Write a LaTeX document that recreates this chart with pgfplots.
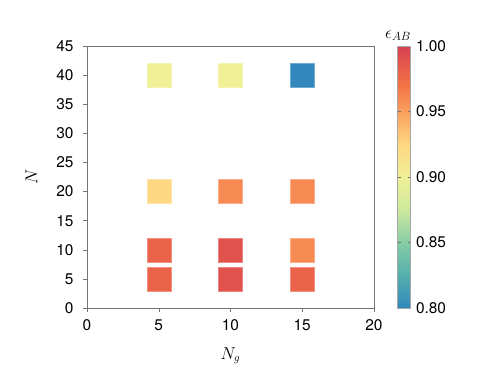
\documentclass[border=0pt]{standalone}
\usepackage{pgfplots}
\pgfplotsset{compat=1.18}
\usepackage{fontspec}
\setmainfont{TeX Gyre Heros}

\pgfplotsset{
  colormap={spectralr}{
    rgb255(0pt)=(50,136,189)
    rgb255(25pt)=(85,175,172)
    rgb255(50pt)=(135,205,165)
    rgb255(75pt)=(205,232,158)
    rgb255(100pt)=(240,240,150)
    rgb255(125pt)=(254,215,130)
    rgb255(150pt)=(251,160,95)
    rgb255(170pt)=(244,115,70)
    rgb255(200pt)=(215,65,80)
  }
}

\begin{document}
\begin{tikzpicture}
\path[use as bounding box] (-87bp,-72bp) rectangle (404bp,308bp);
\begin{axis}[
    at={(0,0)}, anchor=south west,
    scale only axis,
    width=287bp, height=262bp,
    xmin=0, xmax=20, ymin=0, ymax=45,
    xtick={0,5,...,20}, ytick={0,5,...,45},
    tick align=outside,
    tick pos=left,
    major tick length=4bp,
    axis line style={black!55},
    every tick/.style={black!55},
    ticklabel style={font=\fontsize{15.5}{17}\selectfont},
    xticklabel style={yshift=-4bp},
    yticklabel style={xshift=-6bp},
    /pgf/number format/assume math mode=true,
    xlabel={$N_g$}, ylabel={$N$},
    label style={font=\fontsize{16}{18}\selectfont},
    xlabel style={yshift=-10bp},
    ylabel style={yshift=12bp},
    colormap name=spectralr,
    point meta min=0.8, point meta max=1.0,
    colorbar,
    colorbar style={
        at={(parent axis.north east)}, anchor=north west,
        xshift=15bp, width=13bp,
        ytick={0.8,0.85,...,1.0},
        yticklabel style={font=\fontsize{15.5}{17}\selectfont, xshift=2bp,
            /pgf/number format/.cd, fixed, fixed zerofill, precision=2,
            assume math mode=true},
        major tick length=3bp,
        axis line style={black!35},
        every tick/.style={black!55},
    },
    clip=false,
]
\addplot[
    scatter, only marks,
    mark=square*, mark size=12bp,
    point meta=explicit,
    scatter/use mapped color={draw=mapped color!70!white, fill=mapped color},
] table[meta=c] {
x   y   c
5   40  0.900
10  40  0.900
15  40  0.800
5   20  0.925
10  20  0.960
15  20  0.960
5   10  0.980
10  10  0.990
15  10  0.960
5   5   0.980
10  5   0.990
15  5   0.980
};
\node[anchor=south, inner sep=0pt, font=\fontsize{18}{20}\selectfont]
    at ([xshift=24bp, yshift=5bp]rel axis cs:1,1) {$\epsilon_{AB}$};
\end{axis}
\end{tikzpicture}
\end{document}
